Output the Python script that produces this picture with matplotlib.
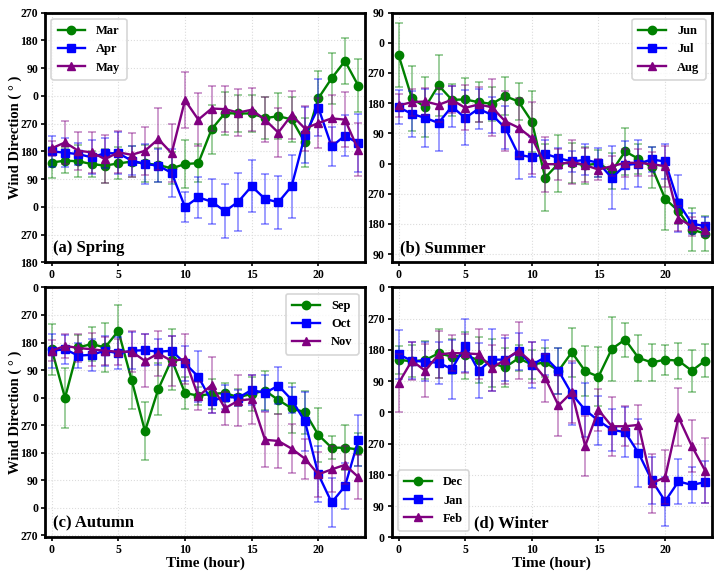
import matplotlib
matplotlib.use("Agg")
import matplotlib.pyplot as plt
from matplotlib.ticker import MultipleLocator, FuncFormatter
import numpy as np

plt.rcParams["font.family"] = ["Liberation Serif", "DejaVu Serif"]
plt.rcParams["font.weight"] = "bold"

hours = list(range(24))

# unwrapped wind direction (deg), labels shown modulo 360
mar = [144, 150, 148, 139, 134, 141, 147, 141, 136, 125, 139, 142,
       252, 304, 303, 303, 288, 294, 284, 209, 352, 417, 473, 393]
mar_err = [50, 40, 52, 41, 55, 52, 50, 60, 54, 52, 77, 62,
           80, 70, 60, 60, 67, 74, 73, 80, 88, 82, 76, 86]
apr = [180, 176, 171, 161, 174, 174, 150, 139, 134, 110, 0, 31,
       17, -14, 17, 67, 26, 15, 67, 233, 322, 196, 231, 206]
apr_err = [50, 47, 35, 55, 49, 68, 47, 65, 54, 77, 49, 66,
           74, 88, 94, 84, 80, 86, 102, 92, 93, 64, 67, 94]
may = [190, 209, 182, 177, 155, 177, 169, 182, 220, 174, 346, 283,
       319, 317, 306, 315, 283, 241, 298, 254, 272, 287, 283, 185]
may_err = [25, 69, 62, 66, 77, 68, 72, 78, 100, 94, 90, 86,
           72, 74, 76, 69, 73, 79, 78, 74, 80, 75, 90, 86]

jun = [324, 195, 168, 233, 190, 191, 183, 178, 201, 185, 125, -42,
       0, 2, -5, 0, -23, 36, 14, -11, -105, -142, -197, -209]
jun_err = [95, 97, 90, 91, 47, 65, 60, 50, 57, 55, 91, 100,
           85, 60, 55, 40, 54, 71, 45, 61, 92, 37, 63, 51]
jul = [168, 148, 136, 121, 170, 136, 163, 145, 107, 26, 19, 29,
       16, 6, 11, 2, -43, -5, 0, 12, 6, -118, -179, -187]
jul_err = [51, 69, 87, 85, 60, 82, 59, 54, 64, 72, 59, 40,
           31, 32, 46, 43, 94, 71, 71, 37, 51, 85, 30, 28]
aug = [173, 183, 185, 175, 190, 166, 176, 168, 126, 107, 76, -2,
       -2, 5, -5, -18, -8, 2, 2, -2, -8, -164, -187, -199]
aug_err = [35, 40, 41, 50, 40, 67, 53, 85, 89, 87, 107, 82,
           46, 65, 50, 31, 30, 42, 40, 35, 61, 37, 28, 21]

sep = [158, -1, 164, 175, 164, 218, 57, -110, 28, 124, 15, 6,
       12, 15, 1, 12, 23, -8, -35, -48, -122, -164, -164, -170]
sep_err = [83, 98, 41, 57, 80, 86, 94, 95, 84, 100, 52, 29,
           49, 31, 27, 56, 65, 46, 82, 70, 89, 38, 73, 54]
oct_ = [153, 158, 137, 140, 153, 145, 153, 155, 150, 153, 112, 68,
        -12, 3, -1, 25, 15, 39, -7, -78, -251, -343, -290, -140]
oct_err = [55, 47, 41, 52, 49, 52, 60, 52, 43, 49, 57, 84,
           38, 39, 27, 49, 60, 61, 42, 96, 91, 79, 75, 83]
nov = [153, 169, 162, 158, 153, 150, 150, 120, 144, 120, 126, 4,
       41, -35, -10, -5, -138, -142, -167, -200, -251, -235, -220, -260]
nov_err = [34, 39, 46, 54, 46, 43, 68, 87, 73, 81, 81, 46,
           90, 54, 84, 80, 90, 87, 81, 65, 73, 75, 62, 73]

dec = [152, 147, 151, 170, 161, 164, 151, 142, 130, 156, 138, 144,
       120, 173, 119, 103, 183, 210, 157, 144, 152, 149, 120, 149]
dec_err = [40, 46, 54, 70, 51, 67, 65, 69, 56, 38, 42, 43,
           67, 71, 73, 86, 93, 49, 67, 53, 43, 52, 60, 47]
jan = [167, 149, 146, 143, 125, 192, 120, 152, 152, 176, 137, 159,
       120, 53, 7, -24, -50, -57, -117, -196, -256, -199, -209, -201]
jan_err = [70, 53, 56, 60, 85, 76, 79, 89, 61, 53, 66, 51,
           67, 90, 78, 70, 60, 73, 98, 67, 71, 66, 53, 60]
feb = [84, 149, 120, 167, 171, 170, 168, 128, 152, 178, 144, 99,
       20, 58, -97, 7, -40, -40, -36, -204, -187, -14, -97, -168]
feb_err = [83, 55, 77, 67, 51, 56, 73, 67, 70, 83, 58, 69,
           89, 89, 86, 60, 85, 58, 56, 85, 78, 83, 75, 93]

panels = [
    ("(a) Spring", [("Mar", mar, mar_err), ("Apr", apr, apr_err), ("May", may, may_err)],
     (-180, 630), "upper left", (0.026, 0.057)),
    ("(b) Summer", [("Jun", jun, jun_err), ("Jul", jul, jul_err), ("Aug", aug, aug_err)],
     (-295, 450), "upper right", (0.026, 0.057)),
    ("(c) Autumn", [("Sep", sep, sep_err), ("Oct", oct_, oct_err), ("Nov", nov, nov_err)],
     (-457, 360), "upper right", (0.026, 0.056)),
    ("(d) Winter", [("Dec", dec, dec_err), ("Jan", jan, jan_err), ("Feb", feb, feb_err)],
     (-360, 360), "lower left", (0.258, 0.056)),
]

colors = ["green", "blue", "purple"]
markers = ["o", "s", "^"]

fig = plt.figure(figsize=(7.19, 5.73), dpi=100)
positions = [[0.0626, 0.542, 0.445, 0.436], [0.545, 0.542, 0.445, 0.436],
             [0.0626, 0.0623, 0.445, 0.436], [0.545, 0.0623, 0.445, 0.436]]

for i, (title, series, ylim, loc, tpos) in enumerate(panels):
    ax = fig.add_axes(positions[i])
    for (name, vals, errs), c, m in zip(series, colors, markers):
        ax.errorbar(hours, vals, yerr=errs, fmt="none", ecolor=c, alpha=0.45,
                    elinewidth=1.2, capsize=3, capthick=1.2)
        ax.plot(hours, vals, color=c, marker=m, markersize=6, linewidth=1.7, label=name)
    ax.set_xlim(-0.5, 23.5)
    ax.set_ylim(*ylim)
    ax.xaxis.set_major_locator(MultipleLocator(5))
    ax.yaxis.set_major_locator(MultipleLocator(90))
    ax.yaxis.set_major_formatter(FuncFormatter(lambda v, p: f"{int(round(v)) % 360}"))
    ax.grid(True, color="#dcdcdc", linestyle=":", linewidth=0.8)
    for s in ax.spines.values():
        s.set_linewidth(2)
    ax.tick_params(labelsize=8.5, width=1.2, length=3, pad=2)
    for lab in ax.get_xticklabels() + ax.get_yticklabels():
        lab.set_fontweight("bold")
    leg = ax.legend(loc=loc, prop={"weight": "bold", "size": 9}, handlelength=2.2,
                    borderpad=0.5, labelspacing=0.5, handletextpad=0.9)
    leg.get_frame().set_linewidth(1.2)
    ax.text(tpos[0], tpos[1], title, transform=ax.transAxes, fontsize=12,
            fontweight="bold", va="center", ha="left")
    if i % 2 == 0:
        ax.set_ylabel("Wind Direction ( ° )", fontsize=10.5, fontweight="bold")
        ax.yaxis.set_label_coords(-0.072, 0.5)
    if i >= 2:
        ax.set_xlabel("Time (hour)", fontsize=11, fontweight="bold", labelpad=0)

fig.savefig("out.png", dpi=100)
plt.close(fig)
